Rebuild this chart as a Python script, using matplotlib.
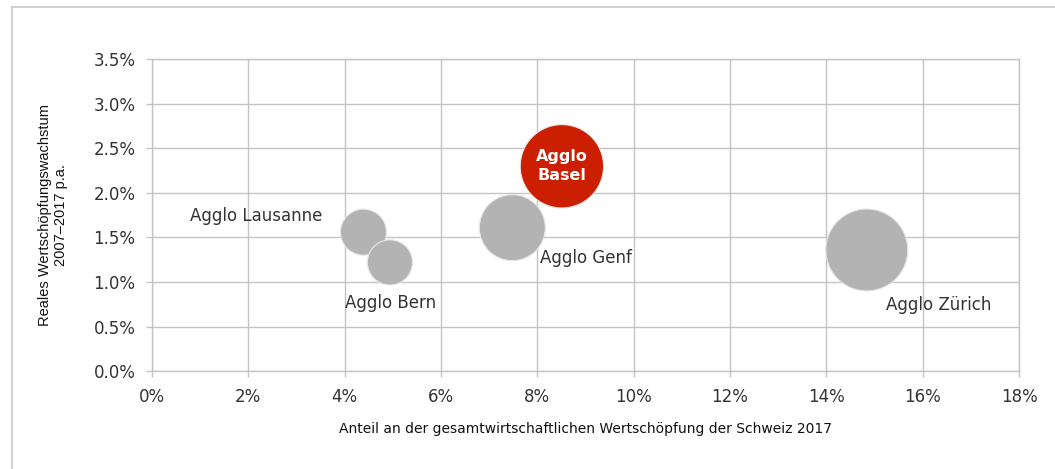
"""
Bubble chart: Wertschöpfungswachstum vs. Anteil an der Wertschöpfung, Agglos Schweiz.
Saves out.png (1055x469).
"""

import matplotlib as mpl
import matplotlib.pyplot as plt
import matplotlib.ticker as ticker
from matplotlib.lines import Line2D

# ── data ──────────────────────────────────────────────────────────────────────
agglos      = ["Agglo Lausanne", "Agglo Bern", "Agglo Genf", "Agglo Basel", "Agglo Zürich"]
share_pct   = [4.39, 4.94, 7.48, 8.51, 14.84]     # Anteil an Wertschöpfung CH 2017 (%)
growth_pct  = [1.56, 1.22, 1.61, 2.30, 1.36]      # reales Wachstum 2007–2017 p.a. (%)
bubble_size = [53, 51, 109, 174, 168]             # relative bubble size

x_ticks = [0, 2, 4, 6, 8, 10, 12, 14, 16, 18]
y_ticks = [0.0, 0.5, 1.0, 1.5, 2.0, 2.5, 3.0, 3.5]

# ── style ─────────────────────────────────────────────────────────────────────
GREY_BUBBLE = "#b3b3b3"
RED_BUBBLE  = "#cc1f00"
GRID_CLR    = "#c4c4c4"
TXT_CLR     = "#333333"
SIZE_SCALE  = 20.7   # bubble_size -> marker area (pt^2)

mpl.rcParams.update({
    "font.family": ["DejaVu Sans"],
    "axes.linewidth": 0.9,
})

W, H, DPI = 1055, 469, 100
fig = plt.figure(figsize=(W / DPI, H / DPI), dpi=DPI)
ax = fig.add_axes([152 / W, 1 - 371 / H, (1019 - 152) / W, (371 - 59.5) / H])

# ── bubbles ──────────────────────────────────────────────────────────────────
colors = [RED_BUBBLE if a == "Agglo Basel" else GREY_BUBBLE for a in agglos]
ax.scatter(share_pct, growth_pct, s=[v * SIZE_SCALE for v in bubble_size],
           c=colors, edgecolors="#e6e6e6", linewidths=0.8, zorder=3)

# ── labels ───────────────────────────────────────────────────────────────────
label_offsets = {                       # offset in pixels (dx, dy)
    "Agglo Lausanne": (-107, 16),
    "Agglo Bern":     (1, -41),
    "Agglo Genf":     (74, -30),
    "Agglo Zürich":   (72, -55),
}
for name, xv, yv in zip(agglos, share_pct, growth_pct):
    if name == "Agglo Basel":
        ax.text(xv, yv, "Agglo\nBasel", color="white", fontsize=11.5,
                fontweight="bold", ha="center", va="center",
                linespacing=1.3, zorder=4)
        continue
    dx, dy = label_offsets[name]
    ax.annotate(name, (xv, yv), xytext=(dx * 0.72, dy * 0.72),
                textcoords="offset points", ha="center", va="center",
                fontsize=12, color=TXT_CLR, zorder=4)

# ── axes formatting ──────────────────────────────────────────────────────────
ax.set_xlim(0, 18)
ax.set_ylim(0, 3.5)
ax.set_xticks(x_ticks)
ax.set_yticks(y_ticks)
ax.xaxis.set_major_formatter(ticker.FuncFormatter(lambda v, _: f"{v:.0f}%"))
ax.yaxis.set_major_formatter(ticker.FuncFormatter(lambda v, _: f"{v:.1f}%"))
ax.grid(True, color=GRID_CLR, linewidth=1.0, zorder=0)
ax.set_axisbelow(True)
for sp in ax.spines.values():
    sp.set_color(GRID_CLR)
    sp.set_linewidth(1.0)
ax.tick_params(axis="both", colors=GRID_CLR, length=4, width=1.0,
               labelcolor="#333333", labelsize=12)
ax.tick_params(axis="x", pad=8)
ax.tick_params(axis="y", pad=8)

ax.set_xlabel("Anteil an der gesamtwirtschaftlichen Wertschöpfung der Schweiz 2017",
              fontsize=10, color="#111111", labelpad=12)
ax.set_ylabel("Reales Wertschöpfungswachstum\n2007–2017 p.a.",
              fontsize=10.5, color="#111111", family=["Liberation Sans", "DejaVu Sans"],
              labelpad=18, linespacing=1.25)

# ── outer frame (top and left edges of the screenshot box) ───────────────────
frame_kw = dict(color="#c8c8c8", linewidth=1.2, transform=fig.transFigure)
fig.add_artist(Line2D([12 / W, 1], [1 - 7 / H, 1 - 7 / H], **frame_kw))
fig.add_artist(Line2D([12 / W, 12 / W], [0, 1 - 7 / H], **frame_kw))

fig.savefig("out.png", dpi=DPI)
